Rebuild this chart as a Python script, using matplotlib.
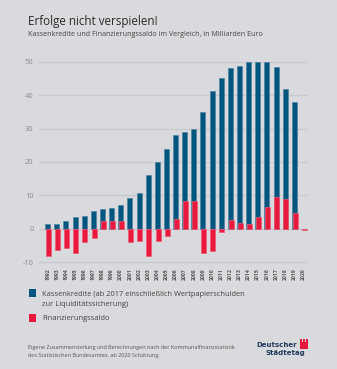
import numpy as np
import matplotlib.pyplot as plt
from matplotlib.patches import Rectangle

# Kassenkredite und Finanzierungssaldo der Kommunen, Mrd. Euro
years = list(range(1992, 2021))
kassenkredite = [1.3, 1.5, 2.4, 3.5, 3.8, 5.4, 6.0, 6.2, 7.1, 9.1, 10.7, 16.1, 20.0,
                 24.0, 28.0, 28.9, 29.9, 35.0, 41.1, 45.1, 48.1, 48.8, 49.9, 49.8,
                 49.8, 48.5, 41.9, 38.0, 0.0]
saldo = [-8.2, -6.5, -5.8, -7.2, -3.9, -2.8, 2.4, 2.4, 2.2, -4.0, -3.6, -8.3, -3.8,
         -2.2, 2.9, 8.3, 8.4, -7.4, -6.8, -0.9, 2.7, 1.8, 1.5, 3.6, 6.6, 9.5, 9.0,
         4.6, -0.3]
yticks = [-10, 0, 10, 20, 30, 40, 50]

BG = '#d9dadd'
BLUE = '#00567e'
RED = '#e8193c'
GRID = '#c9cacf'
GREY = '#8a8b90'

W, H = 337, 369
fig = plt.figure(figsize=(W / 100, H / 100), dpi=100)
fig.patch.set_facecolor(BG)
plt.rcParams['font.family'] = ['Open Sans', 'DejaVu Sans']


def px(x, y):
    return x / W, 1 - y / H


ax = fig.add_axes([39 / W, 1 - 265.4 / H, 269 / W, 207 / H])
ax.set_facecolor(BG)
x = np.arange(len(years))
ax.bar(x, kassenkredite, width=0.55, color=BLUE, edgecolor='#4f83a3', linewidth=0.5, zorder=2)
ax.bar(x + 0.08, saldo, width=0.55, color=RED, edgecolor='#ef5a72', linewidth=0.5, zorder=3)

ax.set_xlim(-0.95, 28.5)
ax.set_ylim(-11, 51)
ax.set_yticks(yticks)
ax.set_yticklabels([str(v) for v in yticks], fontsize=5.4, color=GREY)
ax.yaxis.grid(True, color=GRID, linewidth=1.0, zorder=0)
ax.tick_params(axis='y', length=0, pad=4)
ax.set_xticks(x)
ax.set_xticklabels([str(y) for y in years], rotation=90, fontsize=3.7, color='#555', fontweight='bold')
ax.tick_params(axis='x', length=0, pad=2)
for s in ax.spines.values():
    s.set_visible(False)

# Titel
fig.text(*px(28, 21), 'Erfolge nicht verspielen!', fontsize=8.4, color='#2a2a2a',
         va='center', ha='left')
fig.text(*px(28, 34), 'Kassenkredite und Finanzierungssaldo im Vergleich, in Milliarden Euro',
         fontsize=5.1, color='#444', va='center', ha='left')

# Legende
for y0, c in [(289, BLUE), (314, RED)]:
    fig.patches.append(Rectangle(px(29, y0 + 8), 6.5 / W, 8 / H, transform=fig.transFigure,
                                 facecolor=c, edgecolor='none'))
fig.text(*px(42, 294.5), 'Kassenkredite (ab 2017 einschließlich Wertpapierschulden',
         fontsize=5.4, color='#444', va='center', ha='left')
fig.text(*px(42, 304), 'zur Liquiditätssicherung)', fontsize=5.4, color='#444', va='center', ha='left')
fig.text(*px(42, 318), 'Finanzierungssaldo', fontsize=5.4, color='#444', va='center', ha='left')

# Quelle
fig.text(*px(28, 348), 'Eigene Zusammenstellung und Berechnungen nach der Kommunalfinanzstatistik',
         fontsize=3.95, color='#555', va='center', ha='left')
fig.text(*px(28, 355), 'des Statistischen Bundesamtes, ab 2020 Schätzung.',
         fontsize=3.95, color='#555', va='center', ha='left')

# Logo
fig.text(*px(297, 345), 'Deutscher', fontsize=5.0, color='#1f3a5a', fontweight='bold',
         va='center', ha='right', family='DejaVu Sans')
fig.text(*px(305, 353), 'Städtetag', fontsize=5.0, color='#1f3a5a', fontweight='bold',
         va='center', ha='right', family='DejaVu Sans')
fig.patches.append(Rectangle(px(300, 349), 8 / W, 7 / H, transform=fig.transFigure,
                             facecolor=RED, edgecolor='none'))
for xx in (300, 303, 306):
    fig.patches.append(Rectangle(px(xx, 342), 2 / W, 3 / H, transform=fig.transFigure,
                                 facecolor=RED, edgecolor='none'))

fig.savefig('out.png', dpi=100, facecolor=BG)
